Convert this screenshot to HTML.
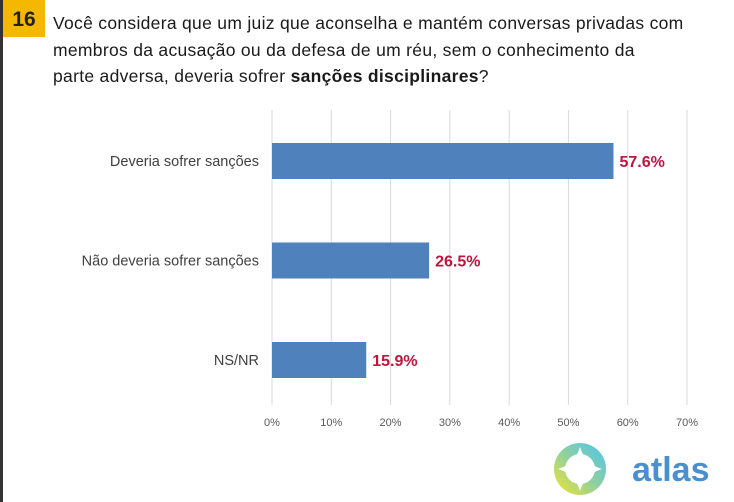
<!DOCTYPE html>
<html><head><meta charset="utf-8"><style>
body{margin:0;width:734px;height:502px;background:#fff;overflow:hidden;position:relative;font-family:"Liberation Sans",sans-serif}
#lb{position:absolute;left:0;top:0;width:3px;height:502px;background:#333}
#num{position:absolute;left:3px;top:0;width:42px;height:37px;background:#f5b800;color:#222;font-weight:bold;font-size:21px;text-align:center;line-height:40px}
#q{position:absolute;left:53px;top:10px;width:680px;font-size:17.5px;line-height:26.5px;color:#1a1a1a;letter-spacing:0.3px;white-space:nowrap}
</style></head><body>
<div id="lb"></div>
<div id="num">16</div>
<div id="q">Você considera que um juiz que aconselha e mantém conversas privadas com<br>membros da acusação ou da defesa de um réu, sem o conhecimento da<br>parte adversa, deveria sofrer <b>sanções disciplinares</b>?</div>
<svg id="chart" width="734" height="502" style="position:absolute;left:0;top:0"></svg>
<svg width="734" height="502" style="position:absolute;left:0;top:0">
<defs><linearGradient id="g" x1="1" y1="0" x2="0" y2="1"><stop offset="0" stop-color="#4ec3f0"/><stop offset="0.5" stop-color="#8fd0a0"/><stop offset="1" stop-color="#f5e52a"/></linearGradient></defs>
<circle cx="580" cy="469" r="26" fill="url(#g)"/>
<circle cx="580" cy="469" r="15" fill="#fff"/>
<path d="M580 447 Q585 464 602 469 Q585 474 580 491 Q575 474 558 469 Q575 464 580 447Z" fill="#fff"/>
<text x="632" y="481" font-size="34" font-weight="bold" fill="#4a8fd0" font-family="Liberation Sans, sans-serif">atlas</text>
</svg>
<script>
const categories=["Deveria sofrer sanções","Não deveria sofrer sanções","NS/NR"];
const values=[57.6,26.5,15.9];
const ticks=[0,10,20,30,40,50,60,70];
const svg=document.getElementById('chart');
const NS='http://www.w3.org/2000/svg';
const x=v=>272+v*(687-272)/70;
const y=i=>143+i*99.5;
function mk(t,a){const e=document.createElementNS(NS,t);for(const k in a)e.setAttribute(k,a[k]);svg.appendChild(e);return e;}
ticks.forEach(t=>{
 const l=mk('line',{x1:x(t),x2:x(t),y1:110,y2:405,stroke:'#d9d9d9','stroke-width':1});
 
 
 const tx=mk('text',{x:x(t),y:426,'text-anchor':'middle','font-size':11,fill:'#595959'});
 tx.textContent=t+'%';
 
 
});
categories.forEach((c,i)=>{
 const r=mk('rect',{x:x(0),y:y(i),width:x(values[i])-x(0),height:36,fill:'#4f81bd'});
 
 
 const lb=mk('text',{x:259,y:y(i)+23,'text-anchor':'end','font-size':14.5,fill:'#404040'});
 lb.textContent=c;
 
 
 const v=mk('text',{x:x(values[i])+6,y:y(i)+24,'font-size':16,'font-weight':'bold',fill:'#c0143c'});
 v.textContent=values[i].toFixed(1)+'%';
 
 
});
</script>
</body></html>
